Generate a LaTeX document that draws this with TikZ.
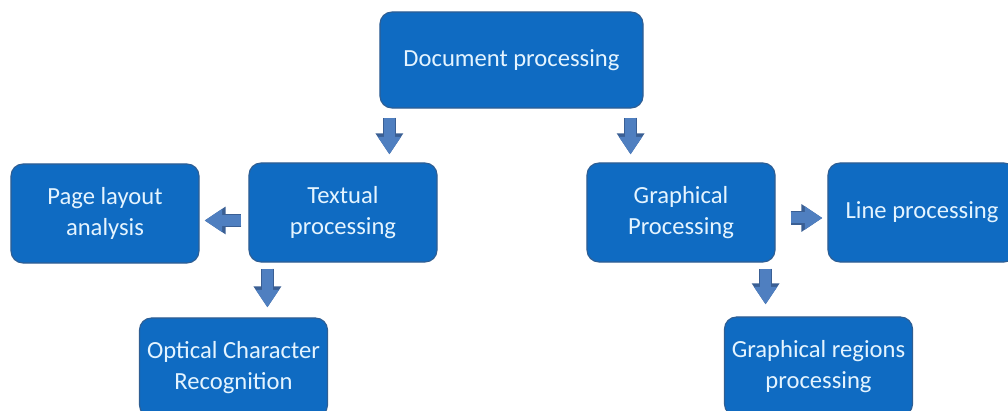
\documentclass[tikz,border=0pt]{standalone}
\usepackage{fontspec}
\setmainfont{Carlito}
\usetikzlibrary{arrows.meta,calc}

\definecolor{boxblue}{HTML}{0F6BC2}
\definecolor{boxedge}{HTML}{2E5E93}
\definecolor{boxtext}{HTML}{E4F4FF}
\definecolor{arrowblue}{HTML}{4F7FC0}
\definecolor{arrowedge}{HTML}{3A5F94}

\begin{document}
\begin{tikzpicture}[x=0.025cm,y=-0.025cm,
    stage/.style={draw=boxedge, line width=0.8pt, fill=boxblue, rounded corners=0.3cm,
      text=boxtext, align=center, minimum width=4.7cm, minimum height=2.475cm,
      inner sep=0pt, font=\fontsize{17.5}{22}\selectfont},
    barrow/.style={line width=0.275cm, draw=arrowblue, -{Triangle[length=0pt 1.6, width=0pt 2]},
      preaction={draw=arrowedge, line width=0.33cm, -{Triangle[length=0pt 1.6, width=0pt 2]}}}]
  \useasboundingbox (0,0) rectangle (1008,411);
  \clip (0,0) rectangle (1008,411);

  % Boxes
  \node[stage, minimum width=6.575cm, minimum height=2.4cm] (doc) at (511.5,60) {Document processing};
  \node[stage] (tex) at (343,212.5) {Textual\\processing};
  \node[stage] (page) at (105,213.5) {Page layout\\analysis};
  \node[stage] (ocr) at (233.5,367.5) {Optical Character\\Recognition};
  \node[stage] (gra) at (681,212.5) {Graphical\\Processing};
  \node[stage] (line) at (922,212.5) {Line processing};
  \node[stage] (reg) at (818.5,366.5) {Graphical regions\\processing};

  % Arrows
  \draw[barrow] ($(doc.south west)+(10,9)$) -- ($(doc.south west |- tex.north)+(10,-8)$);
  \draw[barrow] ($(doc.south east)+(-13,9)$) -- ($(doc.south east |- gra.north)+(-13,-8)$);
  \draw[barrow] ($(tex.west)+(-7,8)$) -- ($(page.east |- tex.west)+(5,8)$);
  \draw[barrow] ($(tex.south west)+(19,6)$) -- ($(tex.south west |- ocr.north)+(19,-10)$);
  \draw[barrow] ($(gra.east)+(15,5.5)$) -- ($(line.west |- gra.east)+(-5,5.5)$);
  \draw[barrow] ($(gra.south east)+(-10,6)$) -- ($(gra.south east |- reg.north)+(-10,-12)$);
\end{tikzpicture}
\end{document}
